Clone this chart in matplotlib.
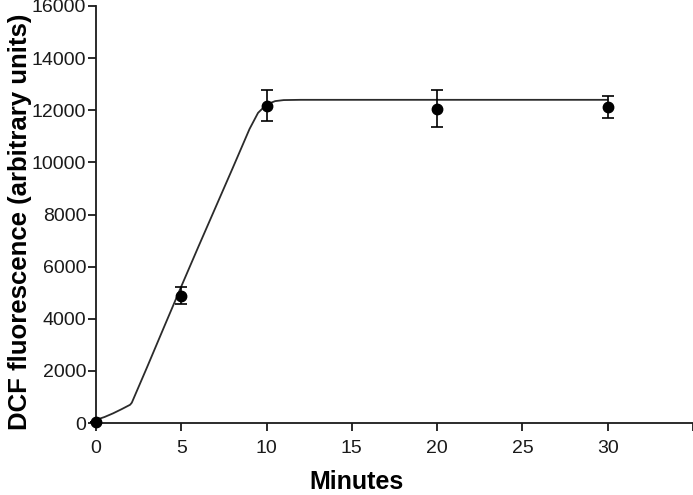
import matplotlib
matplotlib.use("Agg")
import matplotlib.pyplot as plt

# -----------------------------
# Data
# -----------------------------
minutes = [0, 5, 10, 20, 30]
dcf_mean = [30, 4890, 12180, 12060, 12120]
dcf_err = [0, 330, 600, 715, 410]

# fitted curve drawn through the points
fit_x = [0, 0.5, 1, 1.5, 2, 2.1, 3, 4, 5, 6, 7, 8, 9, 9.5, 10, 10.5, 11, 12, 30]
fit_y = [120, 230, 370, 530, 700, 780, 2150, 3700, 5240, 6760, 8260, 9760, 11280, 11900,
         12220, 12350, 12390, 12400, 12400]

XTICKS = [0, 5, 10, 15, 20, 25, 30, 35]
XTICK_LABELS = ["0", "5", "10", "15", "20", "25", "30", ""]
YTICKS = [0, 2000, 4000, 6000, 8000, 10000, 12000, 14000, 16000]

plt.rcParams["font.family"] = ["Liberation Sans", "DejaVu Sans"]

fig = plt.figure(figsize=(6.93, 4.95), dpi=100)
ax = fig.add_axes([96 / 693, 1 - 423 / 495, 1 - 96 / 693, (423 - 6) / 495])

ax.plot(fit_x, fit_y, color="#2b2b2b", linewidth=1.3, zorder=2)
ax.errorbar(minutes, dcf_mean, yerr=dcf_err, fmt="o", color="black",
            markersize=7.5, elinewidth=1.2, capsize=4.3, capthick=1.2,
            clip_on=False, zorder=3)

ax.set_xlim(0, 35)
ax.set_ylim(0, 16000)
ax.set_xticks(XTICKS)
ax.set_xticklabels(XTICK_LABELS)
ax.set_yticks(YTICKS)

for side in ["top", "right"]:
    ax.spines[side].set_visible(False)
for side in ["left", "bottom"]:
    ax.spines[side].set_linewidth(1.3)
    ax.spines[side].set_color("#1a1a1a")

ax.tick_params(axis="both", direction="out", length=6, width=1.3,
               labelsize=14, colors="#1a1a1a")
ax.tick_params(axis="y", pad=1)
ax.tick_params(axis="x", pad=6)

ax.set_xlabel("Minutes", fontsize=18, fontweight="bold")
ax.set_ylabel("DCF fluorescence (arbitrary units)", fontsize=18.5, fontweight="bold")
ax.xaxis.set_label_coords(0.437, -0.113)
ax.yaxis.set_label_coords(-0.108, 0.483)

fig.savefig("out.png", dpi=100)
plt.close(fig)
